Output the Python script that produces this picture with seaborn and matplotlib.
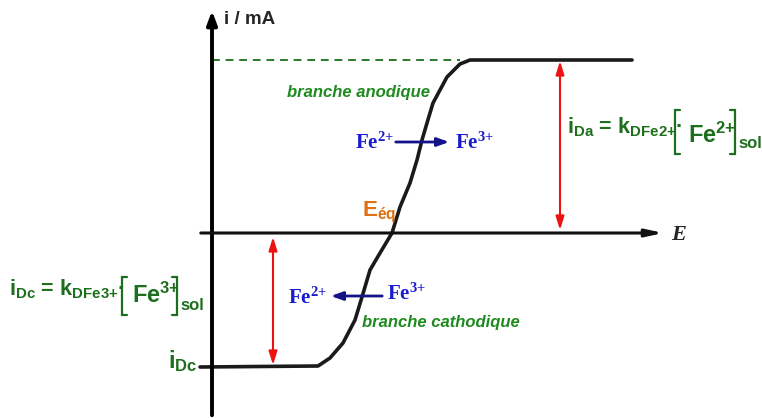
import numpy as np
import seaborn as sns
import matplotlib.pyplot as plt

# polarisation curve i = f(E) (origin at axes crossing)
E_curve = [-12, 106, 118, 131, 143, 150, 158, 168, 180, 188, 198, 205, 210, 215, 221, 235, 248, 258, 420]
i_curve = [-134, -133, -125, -110, -87, -64, -37, -20, 0, 26, 50, 73, 93, 110, 130, 156, 169, 173, 173]
i_Da = 173
i_Dc = -134

sns.set_style("white")
plt.rcParams['mathtext.fontset'] = 'custom'
plt.rcParams['mathtext.rm'] = 'Liberation Sans:bold'
plt.rcParams['mathtext.it'] = 'Liberation Sans:italic:bold'
plt.rcParams['mathtext.bf'] = 'Liberation Sans:bold'
plt.rcParams['mathtext.sf'] = 'Liberation Serif:bold'

fig = plt.figure(figsize=(7.62, 4.18), dpi=100)
ax = fig.add_axes([0, 0, 1, 1])
ax.set_xlim(-212, 550)
ax.set_ylim(-185, 233)
ax.axis('off')


def px(x, y):
    # pixel position of the reference -> data coords
    return (x - 212, 233 - y)


def bracket(x, y0, y1, side, color):
    d = 5 if side == 'left' else -5
    xs = [x + d, x, x, x + d]
    ys = [y0, y0, y1, y1]
    pts = [px(a, b) for a, b in zip(xs, ys)]
    ax.plot([p[0] for p in pts], [p[1] for p in pts], color=color, lw=1.6, solid_joinstyle='miter')


green = '#1d6e1d'
lgreen = '#1f8a1f'
blue = '#1a1ad0'
navy = '#14148a'

# axes
ax.annotate('', xy=px(212, 8), xytext=px(212, 418),
            arrowprops=dict(arrowstyle='-|>,head_length=0.8,head_width=0.3', color='black', lw=2.8))
ax.annotate('', xy=px(666, 233), xytext=px(198, 233),
            arrowprops=dict(arrowstyle='-|>,head_length=1.0,head_width=0.22', color='#111111', lw=2.2))
ax.text(*px(224, 19), 'i / mA', fontsize=13.5, fontweight='bold', family='Liberation Sans', va='center')
ax.text(*px(671, 235), 'E', fontsize=16, fontweight='bold', style='italic', family='Liberation Serif', va='center')

# limiting current dashed line
ax.plot([0, E_curve[-3]], [i_Da, i_Da], ls=(0, (4, 3)), color='#2a7a2a', lw=1.4)

# curve
sns.lineplot(x=E_curve, y=i_curve, ax=ax, color='#1a1a1a', lw=2.6, estimator=None)

# red double arrows
ax.annotate('', xy=(348, i_Da - 1), xytext=(348, 3),
            arrowprops=dict(arrowstyle='<|-|>,head_length=0.8,head_width=0.25', color='#ee1111', lw=1.5,
                            shrinkA=0, shrinkB=0))
ax.annotate('', xy=(61, -4), xytext=(61, i_Dc + 2),
            arrowprops=dict(arrowstyle='<|-|>,head_length=0.8,head_width=0.25', color='#ee1111', lw=1.5,
                            shrinkA=0, shrinkB=0))

# labels
ax.text(*px(287, 92), 'branche anodique', fontsize=12, fontweight='bold', style='italic',
        family='Liberation Sans', color=lgreen, va='center')
ax.text(*px(362, 323), 'branche cathodique', fontsize=12, fontweight='bold', style='italic',
        family='Liberation Sans', color=lgreen, va='center')
ax.text(*px(362, 216), r'$\mathrm{E_{éq}}$', fontsize=16, color='#e07010', va='baseline')

# oxidation / reduction
ax.text(*px(355, 149), r'$\mathsf{Fe^{2{+}}}$', fontsize=15, color=blue, va='baseline')
ax.annotate('', xy=px(452, 142), xytext=px(393, 142),
            arrowprops=dict(arrowstyle='-|>,head_length=0.7,head_width=0.25', color=navy, lw=2))
ax.text(*px(455, 149), r'$\mathsf{Fe^{3{+}}}$', fontsize=15, color=blue, va='baseline')
ax.text(*px(288, 304), r'$\mathsf{Fe^{2{+}}}$', fontsize=15, color=blue, va='baseline')
ax.annotate('', xy=px(328, 296), xytext=px(385, 296),
            arrowprops=dict(arrowstyle='-|>,head_length=0.7,head_width=0.25', color=navy, lw=2))
ax.text(*px(387, 300), r'$\mathsf{Fe^{3{+}}}$', fontsize=15, color=blue, va='baseline')

# iDc label on the axis
ax.text(*px(168, 368), r'$\mathrm{i_{Dc}}$', fontsize=17, color=green, va='baseline')

# formulas
ax.text(*px(9, 295), r'$\mathrm{i_{Dc}}$ = $\mathrm{k_{DFe3{+}}}$' + '·', fontsize=15.5, color=green,
        family='Liberation Sans', fontweight='bold', va='baseline')
bracket(122, 277, 315, 'left', green)
ax.text(*px(132, 303), r'$\mathrm{Fe^{3{+}}}$', fontsize=17, color=green, va='baseline')
bracket(177, 277, 315, 'right', green)
ax.text(*px(180, 310), 'sol', fontsize=12, fontweight='bold', color=green, family='Liberation Sans', va='baseline')

ax.text(*px(567, 133), r'$\mathrm{i_{Da}}$ = $\mathrm{k_{DFe2{+}}}$' + '·', fontsize=15.5, color=green,
        family='Liberation Sans', fontweight='bold', va='baseline')
bracket(675, 110, 154, 'left', green)
ax.text(*px(688, 143), r'$\mathrm{Fe^{2{+}}}$', fontsize=17, color=green, va='baseline')
bracket(735, 110, 154, 'right', green)
ax.text(*px(738, 148), 'sol', fontsize=12, fontweight='bold', color=green, family='Liberation Sans', va='baseline')

fig.savefig('out.png', dpi=100)
